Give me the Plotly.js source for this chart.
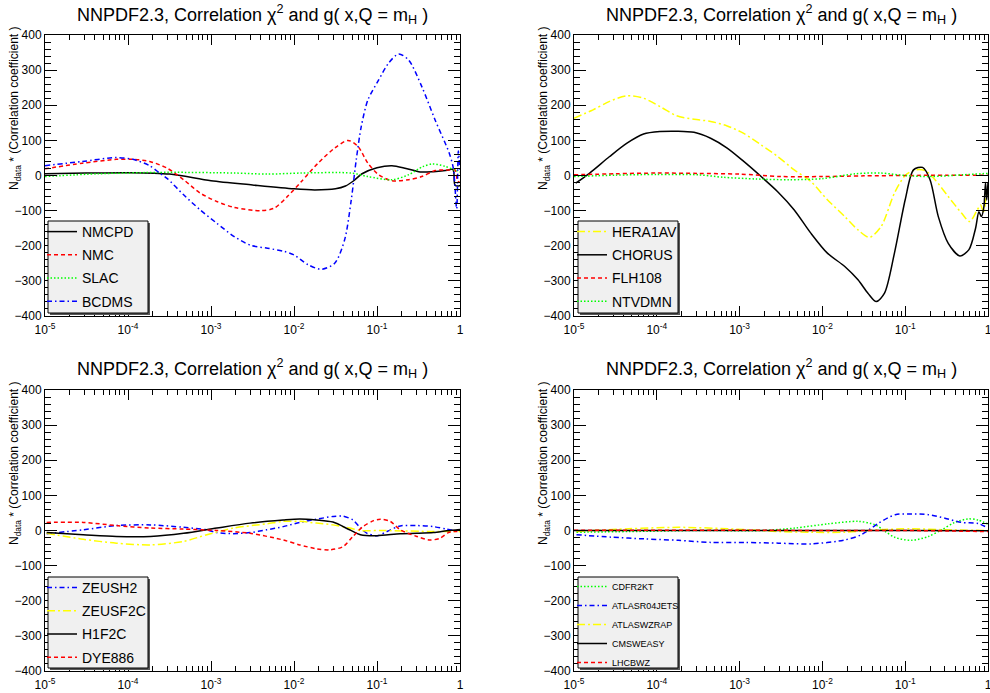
<!DOCTYPE html>
<html>
<head>
<meta charset="utf-8">
<script src="https://cdn.plot.ly/plotly-3.0.1.min.js"></script>
<style>html,body{margin:0;padding:0;background:#fff;}#chart{width:990px;height:693px;}</style>
</head>
<body>
<div id="chart"></div>
<script>
// ---------------- DATA (x given as log10(x), y = N_data * correlation) ----------------
// Panel 1
const NMCPD_lx = [-5, -4.5, -4, -3.5, -3, -2.5, -2, -1.75, -1.5, -1.38, -1.28, -1.18, -1.0, -0.82, -0.65, -0.48, -0.32, -0.15, -0.09, -0.075, -0.06, -0.02, 0];
const NMCPD_y  = [5, 7, 8, 4, -15, -27, -38, -41, -38, -30, -15, 5, 22, 28, 20, 10, 11, 15, 18, 10, -28, -30, -28];
const NMC_lx = [-5, -4.55, -4.14, -3.94, -3.74, -3.53, -3.33, -3.13, -2.93, -2.72, -2.40, -2.24, -2.08, -1.91, -1.71, -1.51, -1.35, -1.23, -1.11, -0.98, -0.82, -0.62, -0.46, -0.30, -0.13, -0.06, -0.03, 0];
const NMC_y  = [19, 35, 46, 46, 40, 21, -12, -50, -74, -91, -100, -93, -60, -17, 35, 78, 100, 83, 35, 2, -15, -12, -3, 14, 16, 16, -15, -20];
const SLAC_lx = [-5, -4.35, -3.53, -2.72, -2.32, -1.91, -1.31, -1.11, -0.82, -0.62, -0.45, -0.33, -0.18, -0.07, 0];
const SLAC_y  = [-3, 5, 9, 7, 4, 7, 7, -3, -12, 2, 25, 33, 26, 16, 10];
const BCDMS_lx = [-5, -4.55, -4.14, -3.94, -3.74, -3.62, -3.53, -3.33, -3.13, -2.93, -2.72, -2.52, -2.32, -2.12, -2.0, -1.83, -1.67, -1.51, -1.39, -1.31, -1.25, -1.19, -1.11, -0.98, -0.86, -0.74, -0.62, -0.46, -0.30, -0.13, -0.08, -0.04, -0.02, 0];
const BCDMS_y  = [28, 40, 51, 46, 28, 7, -8, -55, -98, -136, -174, -199, -207, -216, -226, -254, -267, -250, -183, -69, 45, 139, 215, 272, 320, 346, 329, 253, 158, 64, 20, -95, 70, 10];
// Panel 2
const HERA1AV_lx = [-5, -4.77, -4.57, -4.36, -4.16, -3.96, -3.76, -3.55, -3.35, -3.15, -2.95, -2.74, -2.54, -2.34, -2.14, -1.94, -1.73, -1.57, -1.43, -1.29, -1.13, -1.0, -0.88, -0.76, -0.64, -0.48, -0.32, -0.22, -0.13, -0.09, -0.05, -0.02, 0];
const HERA1AV_y  = [163, 187, 211, 227, 220, 196, 170, 160, 154, 141, 120, 87, 54, 16, -17, -69, -117, -155, -176, -145, -50, 0, 16, 14, -12, -60, -107, -131, -98, -84, -107, -50, -40];
const CHORUS_lx = [-4.98, -4.81, -4.57, -4.36, -4.16, -3.96, -3.76, -3.55, -3.35, -3.15, -2.95, -2.74, -2.54, -2.34, -2.14, -1.94, -1.73, -1.57, -1.45, -1.35, -1.25, -1.13, -1.0, -0.90, -0.79, -0.70, -0.60, -0.48, -0.34, -0.23, -0.15, -0.11, -0.08, -0.05, -0.03, -0.015, 0];
const CHORUS_y  = [-22, 7, 54, 92, 118, 125, 126, 123, 106, 78, 40, -3, -46, -98, -164, -221, -259, -297, -335, -359, -335, -221, -69, 16, 23, -12, -117, -193, -229, -211, -150, -103, -117, -90, -20, -70, -20];
const FLH108_lx = [-5, -4.5, -4, -3.5, -3, -2.5, -2, -1.5, -1, -0.5, 0];
const FLH108_y  = [2, 5, 7, 6, 4, -3, -3, -1, 0, 1, 1];
const NTVDMN_lx = [-5, -4.5, -4, -3.5, -3.2, -2.8, -2.4, -2, -1.6, -1.3, -1, -0.7, -0.3, 0];
const NTVDMN_y  = [-3, 1, 3, 2, -5, -10, -12, -9, 5, 7, 0, -3, 2, 6];
// Panel 3
const ZEUSH2_lx = [-4.98, -4.54, -4.14, -3.73, -3.33, -3.05, -2.93, -2.73, -2.53, -2.33, -2.13, -1.93, -1.73, -1.53, -1.41, -1.29, -1.20, -1.12, -1.0, -0.88, -0.72, -0.52, -0.32, -0.16, 0];
const ZEUSH2_y  = [-9, 2, 14, 16, 9, 2, -6, -9, -6, 2, 11, 23, 32, 40, 41, 30, 7, -8, -15, -3, 13, 14, 11, 4, -3];
const ZEUSF2C_lx = [-4.98, -4.54, -4.14, -3.73, -3.33, -3.05, -2.73, -2.33, -2.13, -1.93, -1.73, -1.53, -1.33, -1.20, -0.92, -0.32, 0];
const ZEUSF2C_y  = [-8, -25, -36, -41, -31, -12, 7, 19, 26, 26, 21, 16, 7, 0, 0, -3, -3];
const H1F2C_lx = [-4.98, -4.54, -4.14, -3.73, -3.33, -2.93, -2.53, -2.13, -1.93, -1.73, -1.53, -1.33, -1.20, -1.0, -0.72, -0.52, -0.32, -0.16, 0];
const H1F2C_y  = [-6, -12, -17, -17, -8, 7, 21, 30, 33, 30, 24, 2, -12, -15, -9, -8, -6, -1, 3];
const DYE886_lx = [-4.98, -4.54, -4.14, -3.73, -3.33, -2.93, -2.53, -2.13, -1.93, -1.73, -1.57, -1.41, -1.29, -1.17, -1.04, -0.96, -0.84, -0.72, -0.52, -0.36, -0.24, -0.14, -0.08, 0];
const DYE886_y  = [23, 23, 14, 7, 4, 0, -8, -27, -41, -52, -55, -46, -17, 11, 28, 32, 26, 2, -17, -27, -22, -6, -3, -3];
// Panel 4
const CDFR2KT_lx = [-4.97, -4.34, -3.54, -2.73, -2.33, -1.93, -1.57, -1.36, -1.24, -1.12, -0.92, -0.72, -0.56, -0.40, -0.24, -0.12, 0];
const CDFR2KT_y  = [-5, -3, 0, 0, 7, 19, 26, 16, -3, -20, -28, -17, 2, 23, 33, 30, 18];
const ATLASR04JETS_lx = [-4.97, -4.55, -4.14, -3.74, -3.34, -2.93, -2.53, -2.13, -1.73, -1.53, -1.32, -1.12, -0.92, -0.72, -0.52, -0.32, -0.12, 0];
const ATLASR04JETS_y  = [-12, -19, -24, -28, -34, -34, -36, -38, -27, -12, 21, 45, 47, 45, 35, 23, 20, 7];
const ATLASWZRAP_lx = [-4.97, -4.34, -3.74, -3.14, -2.53, -2.13, -1.73, -1.32, -0.92, -0.52, 0];
const ATLASWZRAP_y  = [-3, 5, 9, 5, -3, -5, -5, 2, 5, 2, 0];
const CMSWEASY_lx = [-5, -4, -3, -2, -1, 0];
const CMSWEASY_y  = [0, 0, 0, 0, 0, -1];
const LHCBWZ_lx = [-5, -4, -3, -2, -1, -0.3, 0];
const LHCBWZ_y  = [1, 1, 1, 0, 0, -2, -3];

// Axis labels
const xTickVals = [1e-5, 1e-4, 1e-3, 1e-2, 1e-1, 1];
const xTickText = ['10<sup>-5</sup>', '10<sup>-4</sup>', '10<sup>-3</sup>', '10<sup>-2</sup>', '10<sup>-1</sup>', '1'];
const yTickVals = [-400, -300, -200, -100, 0, 100, 200, 300, 400];
const titleText = 'NNPDF2.3, Correlation \u03c7<sup>2</sup> and g( x,Q = m<sub>H</sub> )';
const yTitleText = 'N<sub>data</sub> * (Correlation coefficient )';

// ---------------- LAYOUT ----------------
const W = 990, H = 693;
const FONT = 'Liberation Sans, Arial, Helvetica, sans-serif';
const px = v => v / W, py = v => 1 - v / H;
const panels = [
  {xd: [45, 460], yd: [35, 316], leg: [48, 221, 148, 313], fs: 14, top: 216},
  {xd: [574, 988], yd: [35, 316], leg: [578, 221, 678, 313], fs: 14, top: 216},
  {xd: [45, 460], yd: [390, 671], leg: [48, 577, 148, 668], fs: 14, top: 572},
  {xd: [574, 988], yd: [390, 671], leg: [578, 577, 678, 668], fs: 9, top: 572}
];
const series = [
  [['NMCPD', NMCPD_lx, NMCPD_y, 'black', 'solid'], ['NMC', NMC_lx, NMC_y, 'red', 'dash'], ['SLAC', SLAC_lx, SLAC_y, 'green', 'dot'], ['BCDMS', BCDMS_lx, BCDMS_y, 'blue', 'dashdot']],
  [['HERA1AV', HERA1AV_lx, HERA1AV_y, 'yellow', 'longdashdot'], ['CHORUS', CHORUS_lx, CHORUS_y, 'black', 'solid'], ['FLH108', FLH108_lx, FLH108_y, 'red', 'dash'], ['NTVDMN', NTVDMN_lx, NTVDMN_y, 'green', 'dot']],
  [['ZEUSH2', ZEUSH2_lx, ZEUSH2_y, 'blue', 'dashdot'], ['ZEUSF2C', ZEUSF2C_lx, ZEUSF2C_y, 'yellow', 'longdashdot'], ['H1F2C', H1F2C_lx, H1F2C_y, 'black', 'solid'], ['DYE886', DYE886_lx, DYE886_y, 'red', 'dash']],
  [['CDFR2KT', CDFR2KT_lx, CDFR2KT_y, 'green', 'dot'], ['ATLASR04JETS', ATLASR04JETS_lx, ATLASR04JETS_y, 'blue', 'dashdot'], ['ATLASWZRAP', ATLASWZRAP_lx, ATLASWZRAP_y, 'yellow', 'longdashdot'], ['CMSWEASY', CMSWEASY_lx, CMSWEASY_y, 'black', 'solid'], ['LHCBWZ', LHCBWZ_lx, LHCBWZ_y, 'red', 'dash']]
];
const colors = {black: '#000000', red: '#ff0000', green: '#00ff00', blue: '#0000ff', yellow: '#ffff00'};
const dashes = {solid: 'solid', dash: '4px,3px', dot: '1.5px,2px', dashdot: '5px,3px,1.5px,3px', longdashdot: '8px,3px,2px,3px'};

const minorX = [];
for (let e = -5; e < 0; e++) for (let m = 2; m <= 9; m++) minorX.push(m * Math.pow(10, e));

const traces = [];
const layout = {
  width: W, height: H, margin: {l: 0, r: 0, t: 0, b: 0},
  paper_bgcolor: '#ffffff', plot_bgcolor: '#ffffff',
  font: {family: FONT, color: '#000', size: 12},
  showlegend: true, shapes: [], annotations: []
};

panels.forEach((p, i) => {
  const k = i === 0 ? '' : String(i + 1);
  const legName = i === 0 ? 'legend' : 'legend' + (i + 1);
  layout['xaxis' + k] = {
    type: 'log', range: [-5, 0], domain: [px(p.xd[0]), px(p.xd[1])], anchor: 'y' + k,
    showline: true, linecolor: '#000', linewidth: 1, mirror: 'allticks',
    ticks: 'inside', ticklen: 10, tickwidth: 1, tickcolor: '#000',
    tickmode: 'array', tickvals: xTickVals, ticktext: xTickText,
    tickfont: {family: FONT, size: 12, color: '#000'}, ticklabeloverflow: 'allow', ticklabelstandoff: 3,
    showgrid: false, zeroline: false, fixedrange: true,
    minor: {ticks: 'inside', ticklen: 5, tickcolor: '#000', tickwidth: 1, tickmode: 'array', tickvals: minorX, showgrid: false}
  };
  layout['yaxis' + k] = {
    range: [-400, 400], domain: [py(p.yd[1]), py(p.yd[0])], anchor: 'x' + k,
    showline: true, linecolor: '#000', linewidth: 1, mirror: 'allticks',
    ticks: 'inside', ticklen: 12, tickwidth: 1, tickcolor: '#000',
    tickmode: 'array', tickvals: yTickVals,
    tickfont: {family: FONT, size: 12, color: '#000'}, ticklabeloverflow: 'allow',
    showgrid: false, zeroline: false, fixedrange: true,
    minor: {ticks: 'inside', ticklen: 6, tickcolor: '#000', tickwidth: 1, dtick: 20, showgrid: false}
  };
  // title
  layout.annotations.push({
    text: titleText, xref: 'paper', yref: 'paper', x: px((p.xd[0] + p.xd[1]) / 2), y: py(p.yd[0] - 21),
    xanchor: 'center', yanchor: 'middle', showarrow: false, font: {family: FONT, size: 18, color: '#000'}
  });
  // y axis title
  layout.annotations.push({
    text: yTitleText, xref: 'paper', yref: 'paper', x: px(p.xd[0] - 30), y: py(p.yd[0] + 73),
    xanchor: 'center', yanchor: 'middle', textangle: -90, showarrow: false, font: {family: FONT, size: 12, color: '#000'}
  });
  // legend box with shadow
  const L = p.leg;
  layout.shapes.push({type: 'rect', xref: 'paper', yref: 'paper', x0: px(L[0] + 2), x1: px(L[2] + 2), y0: py(L[3] + 2), y1: py(L[1] + 2), fillcolor: '#555555', line: {width: 0}, layer: 'above'});
  layout.shapes.push({type: 'rect', xref: 'paper', yref: 'paper', x0: px(L[0]), x1: px(L[2]), y0: py(L[3]), y1: py(L[1]), fillcolor: '#f0f0f0', line: {color: '#000', width: 1}, layer: 'above'});
  layout[legName] = {
    x: px(L[0] - 6), y: py(p.top), xanchor: 'left', yanchor: 'top',
    bgcolor: 'rgba(0,0,0,0)', borderwidth: 0, tracegroupgap: p.fs > 10 ? 2 : 0,
    font: {family: FONT, size: p.fs, color: '#000'}, itemclick: false, itemdoubleclick: false
  };
  series[i].forEach(s => {
    traces.push({
      type: 'scatter', mode: 'lines', name: s[0],
      x: s[1].map(v => Math.pow(10, v)), y: s[2],
      xaxis: 'x' + k, yaxis: 'y' + k, legend: legName, legendgroup: s[0],
      line: {color: colors[s[3]], width: 1.5, dash: dashes[s[4]], shape: 'spline', smoothing: 0.8},
      hoverinfo: 'skip'
    });
  });
});

Plotly.newPlot('chart', traces, layout, {staticPlot: true, displayModeBar: false});
</script>
</body>
</html>
